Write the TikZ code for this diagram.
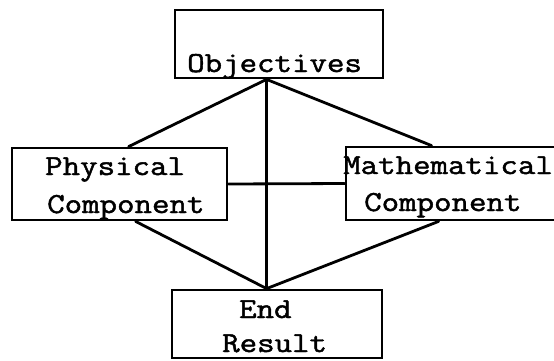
\documentclass[tikz,border=0pt]{standalone}
\usepackage{fontspec}
\newfontfamily\typew[FakeBold=1.6,FakeStretch=1.17]{Latin Modern Mono}
\usetikzlibrary{calc}
\tikzset{
  boxnode/.style={draw=black, line width=2.8pt, rectangle, inner sep=0pt},
  lbl/.style={anchor=base west, inner sep=0pt, font=\typew\fontsize{29}{30}\selectfont},
  conn/.style={draw=black, line width=2.8pt, line cap=round, line join=round}
}
\begin{document}
\begin{tikzpicture}[x=1pt,y=-1pt]
\useasboundingbox (0,0) rectangle (554,360);
\fill[white] (0,0) rectangle (554,360);
\clip (0,0) rectangle (554,360);
% boxes
\node[boxnode, minimum width=208pt, minimum height=68pt] (obj) at (279,44) {};
\node[boxnode, minimum width=215pt, minimum height=72pt] (phys) at (119.5,184) {};
\node[boxnode, minimum width=228pt, minimum height=73pt] (math) at (460,183.5) {};
\node[boxnode, minimum width=210pt, minimum height=68pt] (endr) at (277,324) {};
% texts
\node[lbl] (tobj) at (187,72) {Objectives};
\node[lbl] (tphys1) at (45,175) {Physical};
\node[lbl] (tphys2) at (47,213) {Component};
\node[lbl] (tmath1) at (343,174) {Mathematical};
\node[lbl] (tmath2) at (364,211) {Component};
\node[lbl] (tend1) at (239,318) {End};
\node[lbl] (tend2) at (222,352) {Result};
% connectors
\coordinate (apex) at ($(obj.south west)+(93,0)$);
\draw[conn] (apex) -- ($(phys.north west)+(118,0)$);
\draw[conn] (apex) -- ($(math.north west)+(87,0)$);
\draw[conn] (apex) -- ($(endr.north west)+(96,0)$);
\draw[conn] ($(phys.south west)+(125,0)$) -- ($(endr.north west)+(96,0)$);
\draw[conn] ($(math.south west)+(94,0)$) -- ($(endr.north west)+(96,0)$);
\draw[conn] (phys.east) -- (math.west);
\end{tikzpicture}
\end{document}
